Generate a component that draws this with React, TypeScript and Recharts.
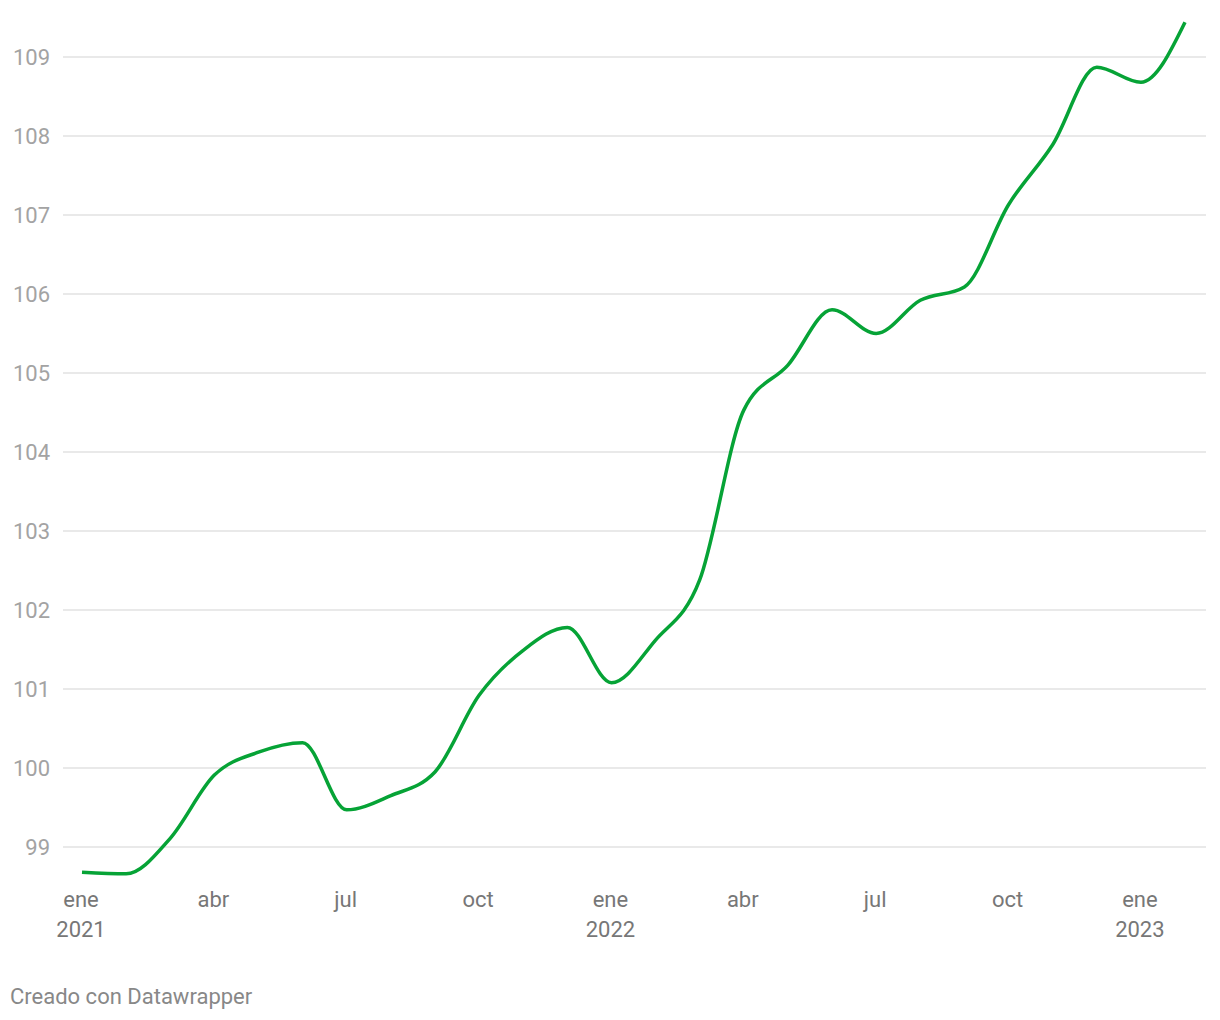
import React from "react";
import { LineChart, Line, XAxis, YAxis, CartesianGrid } from "recharts";

const months = [
  "ene", "feb", "mar", "abr", "may", "jun", "jul", "ago", "sep", "oct", "nov", "dic",
  "ene", "feb", "mar", "abr", "may", "jun", "jul", "ago", "sep", "oct", "nov", "dic",
  "ene", "feb",
];
const years = [
  "2021", "", "", "", "", "", "", "", "", "", "", "",
  "2022", "", "", "", "", "", "", "", "", "", "", "",
  "2023", "",
];
const values = [
  98.68, 98.66, 99.11, 99.91, 100.2, 100.32, 99.47, 99.65, 99.95, 100.92, 101.49, 101.78,
  101.08, 101.62, 102.38, 104.53, 105.1, 105.8, 105.5, 105.92, 106.09, 107.13, 107.89, 108.87,
  108.68, 109.44,
];
const yTicks = [99, 100, 101, 102, 103, 104, 105, 106, 107, 108, 109];

const data = values.map((v, i) => ({
  label: years[i] ? `${months[i]} ${years[i]}` : `${months[i]}`,
  value: v,
}));

const FONT = "Roboto, sans-serif";

function MonthTick(props: any) {
  const { x, y, payload } = props;
  const [m, yr] = String(payload.value).split(" ");
  return (
    <g>
      <text x={x - 1} y={y} dy={20} textAnchor="middle" fill="#777" fontSize={22} fontFamily={FONT}>
        {m}
      </text>
      {yr && (
        <text x={x - 1} y={y} dy={50} textAnchor="middle" fill="#777" fontSize={22} fontFamily={FONT}>
          {yr}
        </text>
      )}
    </g>
  );
}

export default function App() {
  return (
    <div style={{ position: "absolute", left: 0, top: 0, width: 1220, height: 1020, background: "#fff" }}>
      <LineChart
        width={1220}
        height={960}
        data={data}
        margin={{ top: 17.5, right: 14, left: 8, bottom: 13.5 }}
      >
        <CartesianGrid
          vertical={false}
          horizontalValues={yTicks}
          stroke="#e2e2e2"
          strokeWidth={1.5}
        />
        <XAxis
          dataKey="label"
          interval={2}
          padding={{ left: 19, right: 21 }}
          axisLine={false}
          tickLine={false}
          tickSize={0}
          tickMargin={0}
          height={60}
          tick={<MonthTick />}
        />
        <YAxis
          domain={[98.5, 109.5]}
          ticks={yTicks}
          width={55}
          axisLine={false}
          tickLine={false}
          tickSize={0}
          tickMargin={13}
          tick={{ fill: "#a3a3a3", fontSize: 22, fontFamily: FONT }}
        />
        <Line
          type="monotone"
          dataKey="value"
          stroke="#06a336"
          strokeWidth={3.5}
          dot={false}
          isAnimationActive={false}
        />
      </LineChart>
      <div
        style={{
          position: "absolute",
          left: 10,
          top: 984,
          fontFamily: FONT,
          fontSize: 22,
          color: "#888",
        }}
      >
        Creado con Datawrapper
      </div>
    </div>
  );
}
